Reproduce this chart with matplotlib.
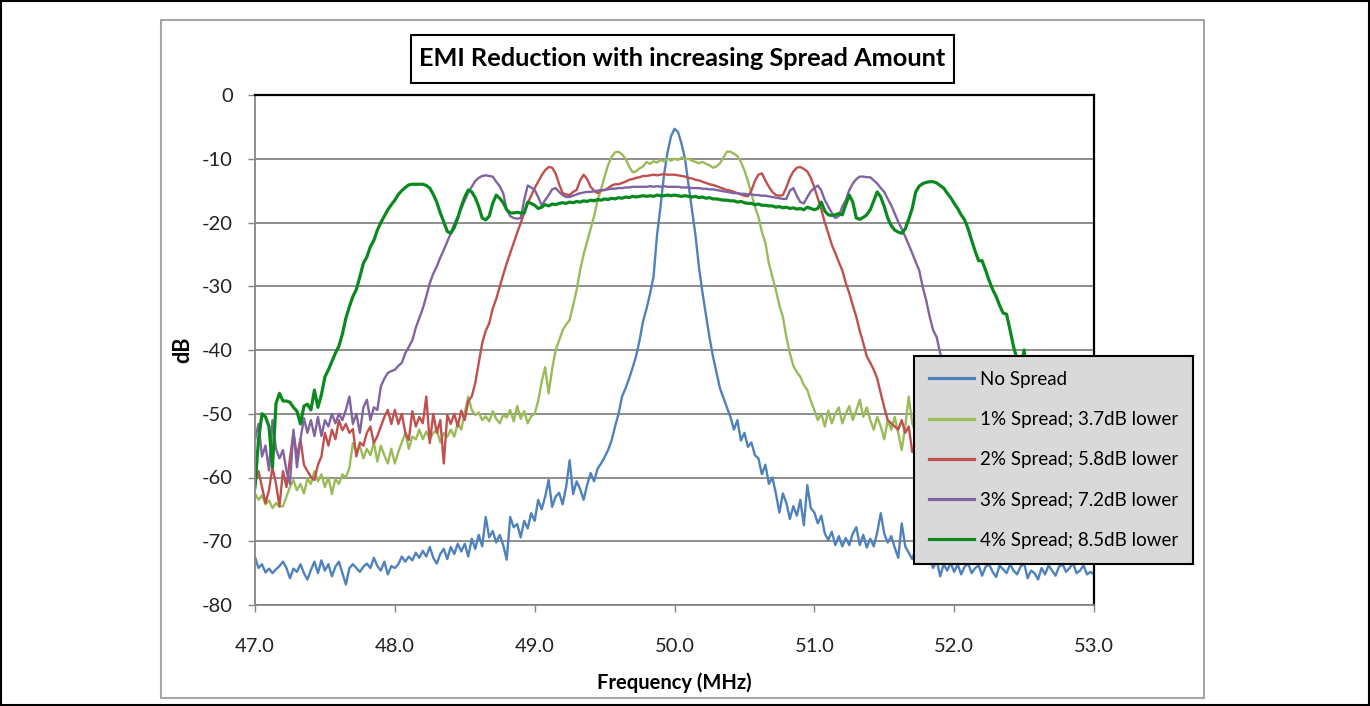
import numpy as np
import matplotlib
matplotlib.use("Agg")
import matplotlib.pyplot as plt
from matplotlib.patches import Rectangle

plt.rcParams['font.family'] = ['Lato', 'DejaVu Sans']
plt.rcParams['axes.unicode_minus'] = False

# spectra sampled every 0.025 MHz from 47.0 to 53.0 (8 samples per row = 0.2 MHz)
no_spread = [
    -72.5, -74.2, -73.6, -74.9, -74.3, -75.0, -74.4, -73.9,   # 47.0
    -73.2, -74.2, -75.8, -74.3, -74.8, -73.6, -75.0, -76.0,   # 47.2
    -74.5, -73.2, -75.0, -73.0, -74.6, -73.6, -75.5, -74.0,   # 47.4
    -73.2, -75.0, -76.8, -74.2, -73.6, -74.2, -74.8, -74.0,   # 47.6
    -73.5, -74.2, -72.6, -73.9, -74.6, -73.2, -75.2, -73.9,   # 47.8
    -74.2, -73.6, -72.4, -73.2, -72.4, -73.0, -71.8, -72.6,   # 48.0
    -71.5, -72.4, -70.9, -72.6, -73.5, -72.0, -71.2, -72.8,   # 48.2
    -70.9, -72.0, -70.4, -71.6, -70.4, -72.4, -69.6, -71.2,   # 48.4
    -69.0, -70.8, -66.2, -69.4, -68.4, -70.2, -69.0, -70.6,   # 48.6
    -72.9, -66.2, -67.8, -67.3, -69.4, -66.8, -68.0, -65.6,   # 48.8
    -66.8, -63.5, -65.0, -63.0, -60.4, -64.6, -63.0, -62.4,   # 49.0
    -64.2, -61.5, -57.3, -62.6, -60.6, -61.8, -63.5, -61.2,   # 49.2
    -59.3, -60.6, -58.6, -57.8, -56.8, -55.7, -54.2, -52.0,   # 49.4
    -50.0, -47.3, -46.0, -44.5, -42.8, -41.0, -38.5, -35.5,   # 49.6
    -33.5, -31.2, -28.5, -22.0, -17.5, -12.5, -9.0, -6.5,     # 49.8
    -5.3, -5.8, -7.6, -10.0, -14.0, -18.0, -22.0, -27.0,      # 50.0
    -31.0, -34.5, -38.0, -41.0, -43.5, -46.0, -47.5, -49.0,   # 50.2
    -50.5, -52.5, -51.0, -54.2, -53.0, -55.2, -54.5, -56.5,   # 50.4
    -57.0, -59.5, -58.0, -61.0, -60.0, -62.5, -65.5, -62.5,   # 50.6
    -64.0, -66.5, -64.5, -66.0, -63.5, -67.5, -61.2, -64.8,   # 50.8
    -65.5, -67.2, -66.0, -68.8, -69.8, -68.5, -70.6, -69.2,   # 51.0
    -70.8, -69.5, -70.6, -68.8, -67.8, -70.6, -69.0, -71.0,   # 51.2
    -69.6, -70.8, -68.6, -65.6, -68.8, -70.2, -69.2, -71.0,   # 51.4
    -72.6, -67.2, -70.8, -71.8, -72.8, -71.2, -73.0, -72.0,   # 51.6
    -73.5, -72.6, -74.2, -73.0, -75.5, -73.6, -74.6, -73.4,   # 51.8
    -74.8, -73.6, -75.2, -74.0, -73.5, -75.0, -74.2, -73.8,   # 52.0
    -75.4, -74.0, -73.6, -74.8, -75.6, -73.8, -74.4, -75.0,   # 52.2
    -73.6, -74.6, -75.2, -74.0, -73.4, -75.8, -74.6, -75.0,   # 52.4
    -76.0, -74.2, -75.2, -73.8, -74.6, -75.4, -74.0, -73.6,   # 52.6
    -74.8, -74.2, -73.4, -75.0, -74.6, -73.8, -75.2, -74.8,   # 52.8
    -75.2,
]

spread_1 = [
    -62.5, -63.5, -62.8, -64.2, -63.6, -64.8, -64.0, -64.6,   # 47.0
    -64.5, -63.0, -61.5, -60.4, -62.0, -61.0, -62.5, -60.2,   # 47.2
    -61.0, -59.0, -60.6, -59.5, -61.5, -60.0, -62.6, -60.2,   # 47.4
    -61.0, -59.5, -60.0, -58.5, -54.6, -56.0, -55.0, -57.0,   # 47.6
    -55.5, -56.5, -54.5, -57.5, -55.0, -56.5, -57.8, -55.5,   # 47.8
    -57.8, -56.0, -54.5, -53.0, -55.5, -53.6, -54.0, -52.5,   # 48.0
    -54.0, -52.8, -54.0, -53.0, -52.5, -54.5, -53.0, -53.6,   # 48.2
    -52.5, -53.6, -51.5, -52.5, -49.8, -47.3, -49.4, -50.2,   # 48.4
    -49.8, -51.0, -50.4, -51.2, -49.6, -50.8, -51.5, -50.2,   # 48.6
    -50.6, -49.4, -51.2, -48.8, -50.8, -49.6, -51.5, -50.4,   # 48.8
    -50.0, -48.0, -45.0, -42.7, -46.8, -43.0, -40.0, -38.5,   # 49.0
    -36.9, -36.0, -35.3, -33.0, -30.6, -27.5, -25.0, -23.0,   # 49.2
    -21.0, -19.0, -16.5, -14.8, -12.8, -11.0, -9.7, -9.0,     # 49.4
    -8.9, -9.3, -10.0, -11.2, -12.1, -12.0, -11.5, -11.2,     # 49.6
    -10.5, -10.8, -10.4, -10.6, -10.2, -10.4, -10.0, -10.3,   # 49.8
    -10.0, -10.2, -9.8, -10.1, -10.0, -10.3, -10.5, -10.7,    # 50.0
    -10.5, -10.8, -11.0, -11.4, -11.2, -10.7, -9.8, -8.9,     # 50.2
    -8.9, -9.2, -9.6, -10.5, -11.8, -13.5, -15.5, -17.5,      # 50.4
    -19.1, -21.5, -23.2, -26.4, -28.5, -30.6, -33.0, -34.8,   # 50.6
    -38.0, -40.5, -42.5, -43.5, -44.2, -45.5, -46.3, -48.0,   # 50.8
    -49.4, -51.0, -50.0, -52.0, -49.5, -51.5, -50.0, -49.0,   # 51.0
    -51.5, -50.0, -48.8, -51.0, -49.5, -47.8, -50.5, -49.0,   # 51.2
    -51.0, -52.5, -50.5, -52.0, -54.0, -51.0, -52.5, -50.5,   # 51.4
    -53.0, -55.7, -52.0, -47.3, -51.5, -53.0, -52.0, -54.0,   # 51.6
    -52.5, -53.5, -51.5, -54.0, -52.5, -55.0, -53.0, -54.5,   # 51.8
    -53.5, -55.0, -54.0, -56.0, -55.0, -57.0, -56.0, -57.5,   # 52.0
    -56.5, -58.0, -57.0, -59.0, -58.0, -60.0, -59.0, -60.5,   # 52.2
    -59.5, -61.0, -60.0, -62.0, -61.0, -62.5, -61.5, -63.0,   # 52.4
    -62.0, -63.5, -62.5, -64.0, -63.0, -64.5, -63.5, -64.0,   # 52.6
    -63.5, -64.5, -63.0, -64.0, -63.5, -64.5, -63.8, -64.2,   # 52.8
    -64.0,
]

spread_2 = [
    -60.9, -59.0, -61.5, -64.0, -62.0, -58.4, -61.0, -64.5,   # 47.0
    -59.0, -61.5, -57.0, -53.0, -56.7, -54.0, -58.0, -59.0,   # 47.2
    -59.9, -60.4, -58.0, -56.7, -53.0, -55.0, -52.5, -54.0,   # 47.4
    -51.0, -52.6, -51.6, -53.0, -52.4, -56.7, -54.5, -55.0,   # 47.6
    -53.0, -52.0, -54.6, -53.5, -52.0, -50.5, -49.4, -51.6,   # 47.8
    -49.4, -51.6, -50.0, -53.0, -54.1, -49.6, -52.0, -50.5,   # 48.0
    -51.5, -47.3, -54.6, -50.0, -53.0, -51.0, -57.8, -50.2,   # 48.2
    -51.6, -50.0, -52.0, -49.5, -51.0, -48.0, -47.3, -45.2,   # 48.4
    -42.0, -38.9, -37.0, -35.8, -33.5, -32.0, -30.1, -28.2,   # 48.6
    -26.4, -24.8, -23.2, -21.6, -20.1, -18.5, -17.0, -15.8,   # 48.8
    -14.6, -13.6, -12.6, -11.8, -11.3, -11.4, -12.3, -14.0,   # 49.0
    -15.4, -15.6, -15.7, -15.2, -14.9, -13.4, -12.5, -13.2,   # 49.2
    -14.4, -15.0, -15.4, -15.0, -14.9, -14.6, -14.2, -14.0,   # 49.4
    -14.0, -13.8, -13.6, -13.3, -13.2, -13.0, -12.9, -12.7,   # 49.6
    -12.7, -12.6, -12.5, -12.6, -12.5, -12.4, -12.5, -12.5,   # 49.8
    -12.5, -12.6, -12.7, -12.8, -13.0, -13.1, -13.3, -13.4,   # 50.0
    -13.6, -13.8, -14.0, -14.1, -14.3, -14.5, -14.7, -14.9,   # 50.2
    -15.0, -15.2, -15.4, -15.6, -15.8, -15.9, -15.0, -13.5,   # 50.4
    -12.5, -12.3, -13.4, -14.4, -15.2, -15.7, -15.8, -15.7,   # 50.6
    -14.5, -13.0, -12.0, -11.4, -11.3, -11.6, -12.0, -13.0,   # 50.8
    -14.5, -16.2, -18.0, -20.0, -21.7, -23.5, -24.8, -26.2,   # 51.0
    -27.5, -29.5, -31.1, -33.0, -34.8, -37.0, -38.9, -41.0,   # 51.2
    -42.0, -43.1, -44.5, -46.8, -49.0, -51.0, -51.5, -52.0,   # 51.4
    -52.5, -51.0, -53.0, -52.0, -56.0, -54.5, -55.5, -57.0,   # 51.6
    -55.0, -57.5, -56.0, -58.5, -57.0, -59.0, -58.0, -60.0,   # 51.8
    -59.0, -60.5, -59.5, -61.5, -60.5, -62.0, -61.0, -62.5,   # 52.0
    -61.5, -63.0, -62.0, -63.5, -62.5, -64.0, -63.0, -64.0,   # 52.2
    -63.0, -64.5, -63.5, -64.0, -63.0, -64.5, -63.5, -64.0,   # 52.4
    -63.0, -64.5, -63.5, -64.0, -63.0, -64.5, -63.5, -64.0,   # 52.6
    -63.0, -64.5, -63.5, -64.0, -63.0, -64.5, -63.5, -64.0,   # 52.8
    -64.0,
]

spread_3 = [
    -54.1, -51.6, -56.7, -55.0, -58.9, -51.0, -55.5, -57.0,   # 47.0
    -55.7, -58.9, -61.0, -52.5, -58.4, -54.0, -50.7, -53.0,   # 47.2
    -51.0, -53.5, -50.5, -53.5, -51.0, -52.0, -50.0, -51.5,   # 47.4
    -50.0, -51.0, -49.4, -47.3, -51.6, -50.0, -53.0, -49.0,   # 47.6
    -47.8, -51.0, -49.0, -49.4, -45.7, -44.5, -43.6, -43.3,   # 47.8
    -43.1, -42.5, -42.0, -40.5, -39.5, -38.5, -36.5, -35.0,   # 48.0
    -33.5, -31.6, -29.5, -28.0, -26.9, -25.5, -24.3, -23.0,   # 48.2
    -21.7, -20.2, -19.1, -17.8, -16.5, -15.3, -14.4, -13.5,   # 48.4
    -13.0, -12.7, -12.6, -12.7, -12.8, -13.6, -14.3, -15.4,   # 48.6
    -18.0, -19.0, -19.3, -19.4, -19.3, -16.5, -14.2, -14.5,   # 48.8
    -14.9, -16.0, -17.3, -16.5, -15.7, -14.8, -14.6, -15.2,   # 49.0
    -15.7, -16.0, -16.0, -15.8, -15.6, -15.4, -15.3, -15.2,   # 49.2
    -15.2, -15.1, -15.0, -14.9, -14.9, -14.8, -14.7, -14.7,   # 49.4
    -14.6, -14.6, -14.5, -14.5, -14.4, -14.4, -14.4, -14.4,   # 49.6
    -14.4, -14.3, -14.4, -14.3, -14.4, -14.3, -14.4, -14.4,   # 49.8
    -14.4, -14.4, -14.5, -14.5, -14.5, -14.6, -14.6, -14.6,   # 50.0
    -14.7, -14.7, -14.8, -14.8, -14.9, -15.0, -15.1, -15.2,   # 50.2
    -15.3, -15.4, -15.4, -15.5, -15.5, -15.6, -15.6, -15.7,   # 50.4
    -15.7, -15.8, -15.8, -15.9, -16.0, -16.1, -16.2, -16.3,   # 50.6
    -16.3, -15.0, -14.6, -15.8, -16.8, -17.0, -16.0, -15.1,   # 50.8
    -14.6, -14.2, -15.0, -16.5, -17.5, -18.5, -19.3, -19.0,   # 51.0
    -17.5, -16.5, -14.9, -13.9, -13.2, -12.8, -12.8, -12.9,   # 51.2
    -12.9, -13.4, -13.9, -14.6, -15.2, -16.3, -17.3, -18.6,   # 51.4
    -19.9, -21.0, -22.2, -23.5, -24.8, -26.2, -27.5, -30.1,   # 51.6
    -32.2, -34.8, -36.9, -38.0, -40.5, -42.5, -44.5, -46.5,   # 51.8
    -48.0, -49.5, -51.0, -52.0, -53.0, -54.0, -55.0, -55.5,   # 52.0
    -56.0, -57.0, -56.5, -57.5, -57.0, -58.0, -57.5, -58.5,   # 52.2
    -58.0, -59.0, -58.5, -59.5, -59.0, -60.0, -59.5, -60.0,   # 52.4
    -59.5, -60.5, -60.0, -60.5, -60.0, -61.0, -60.5, -61.0,   # 52.6
    -60.5, -61.0, -60.5, -61.5, -61.0, -61.5, -61.0, -61.5,   # 52.8
    -61.5,
]

spread_4 = [
    -61.5, -54.1, -50.0, -50.5, -52.0, -58.4, -48.4, -46.8,   # 47.0
    -48.0, -48.0, -48.2, -49.0, -49.6, -51.6, -48.8, -48.5,   # 47.2
    -49.4, -46.3, -49.0, -47.0, -44.2, -43.1, -41.8, -40.5,   # 47.4
    -39.4, -37.5, -35.0, -33.2, -31.6, -30.5, -28.5, -26.4,   # 47.6
    -25.4, -23.8, -22.8, -21.2, -20.0, -19.0, -18.0, -17.2,   # 47.8
    -16.5, -15.6, -15.0, -14.5, -14.1, -14.0, -14.0, -14.0,   # 48.0
    -14.0, -14.2, -14.6, -15.6, -16.8, -18.5, -19.9, -21.4,   # 48.2
    -21.7, -20.8, -19.3, -17.5, -16.0, -14.9, -15.2, -16.1,   # 48.4
    -17.5, -19.3, -19.6, -19.0, -17.0, -15.7, -16.2, -16.9,   # 48.6
    -18.0, -18.5, -18.5, -18.4, -18.5, -18.5, -16.8, -17.0,   # 48.8
    -17.3, -17.8, -17.6, -17.2, -17.4, -17.1, -17.2, -17.0,   # 49.0
    -16.9, -17.0, -16.8, -16.9, -16.7, -16.8, -16.6, -16.7,   # 49.2
    -16.5, -16.6, -16.4, -16.5, -16.3, -16.4, -16.2, -16.3,   # 49.4
    -16.1, -16.2, -16.0, -16.1, -15.9, -16.0, -15.9, -15.8,   # 49.6
    -15.9, -15.8, -15.9, -15.7, -15.8, -15.8, -15.7, -15.8,   # 49.8
    -15.7, -15.8, -15.9, -15.8, -15.9, -16.0, -15.9, -16.1,   # 50.0
    -16.0, -16.2, -16.1, -16.3, -16.3, -16.4, -16.5, -16.5,   # 50.2
    -16.6, -16.6, -16.8, -16.7, -16.9, -17.0, -17.0, -17.2,   # 50.4
    -17.1, -17.3, -17.3, -17.4, -17.4, -17.6, -17.5, -17.7,   # 50.6
    -17.6, -17.8, -17.7, -17.9, -17.8, -18.0, -17.6, -17.8,   # 50.8
    -18.0, -17.8, -16.8, -18.2, -18.8, -18.9, -18.8, -18.6,   # 51.0
    -18.8, -17.2, -15.7, -16.8, -19.3, -19.5, -19.2, -18.8,   # 51.2
    -18.0, -16.6, -15.2, -16.0, -17.5, -19.3, -20.5, -21.2,   # 51.4
    -21.5, -21.7, -21.0, -19.5, -17.8, -15.2, -14.3, -13.9,   # 51.6
    -13.7, -13.6, -13.6, -13.8, -14.2, -14.6, -15.4, -16.1,   # 51.8
    -17.0, -17.8, -18.8, -19.6, -21.0, -22.8, -24.5, -26.0,   # 52.0
    -26.0, -27.5, -29.1, -30.5, -31.6, -33.0, -34.2, -34.4,   # 52.2
    -36.9, -39.5, -41.5, -43.0, -40.0, -44.5, -47.0, -49.0,   # 52.4
    -50.0, -51.5, -52.0, -53.0, -53.5, -54.5, -55.0, -56.0,   # 52.6
    -56.5, -57.0, -57.5, -58.0, -58.5, -59.0, -59.5, -60.0,   # 52.8
    -60.0,
]

labels = ["No Spread", "1% Spread; 3.7dB lower", "2% Spread; 5.8dB lower",
          "3% Spread; 7.2dB lower", "4% Spread; 8.5dB lower"]
colors = ["#4f81bd", "#9bbb59", "#c0504d", "#8064a2", "#0a8a1e"]
series = [no_spread, spread_1, spread_2, spread_3, spread_4]
widths = [1.7, 1.7, 1.7, 1.7, 2.3]

W, H = 1370, 706
fig = plt.figure(figsize=(W / 100, H / 100), dpi=100)

# outer border and chart area border
fig.patches.append(Rectangle((0.0005, 0.001), 0.999, 0.998, transform=fig.transFigure,
                             fill=False, edgecolor="black", lw=1.5))
fig.patches.append(Rectangle((161 / W, 1 - 698 / H), (1204 - 161) / W, (698 - 20) / H,
                             transform=fig.transFigure, fill=False, edgecolor="#a6a6a6", lw=1.5))

ax = fig.add_axes([255 / W, 1 - 605 / H, (1094 - 255) / W, (605 - 95) / H])

for db, c, lab, lw in zip(series, colors, labels, widths):
    f = np.linspace(47.0, 53.0, len(db))
    ax.plot(f, db, color=c, lw=lw, label=lab)

ax.set_xlim(47, 53)
ax.set_ylim(-80, 0)
xt = [47, 48, 49, 50, 51, 52, 53]
ax.set_xticks(xt)
ax.set_xticklabels(["%.1f" % v for v in xt])
yt = list(range(-80, 1, 10))
ax.set_yticks(yt)
ax.set_yticklabels([str(v) for v in yt])
ax.tick_params(axis="both", direction="out", length=5, width=1, color="#868686",
               labelsize=14.5, labelcolor="#222222")
ax.tick_params(axis="y", pad=11)
ax.tick_params(axis="x", pad=19)

ax.yaxis.grid(True, color="#868686", lw=1.3)
ax.set_axisbelow(True)
for s in ["top", "right"]:
    ax.spines[s].set_color("black")
    ax.spines[s].set_linewidth(1.6)
for s in ["left", "bottom"]:
    ax.spines[s].set_color("#868686")
    ax.spines[s].set_linewidth(1.3)

# title in a framed box
fig.patches.append(Rectangle((411 / W, 1 - 83 / H), (954 - 411) / W, (83 - 35) / H,
                             transform=fig.transFigure, facecolor="white",
                             edgecolor="black", lw=1.5))
fig.text(682 / W, 1 - 59 / H, "EMI Reduction with increasing Spread Amount",
         ha="center", va="center", fontsize=18.3, fontweight="bold")

fig.text(183 / W, 1 - 350 / H, "dB", rotation=90, ha="center", va="center",
         fontsize=15.5, fontweight="bold")
fig.text(674 / W, 1 - 683 / H, "Frequency (MHz)", ha="center", va="center",
         fontsize=14.5, fontweight="bold")

leg = ax.legend(loc="upper left", bbox_to_anchor=(914 / W, 1 - 356 / H),
                bbox_transform=fig.transFigure, borderaxespad=0, fancybox=False,
                frameon=True, facecolor="#d9d9d9", edgecolor="black", framealpha=1,
                fontsize=13.5, handlelength=2.4, handletextpad=0.3,
                labelspacing=1.24, borderpad=0.8)
leg.get_frame().set_linewidth(1.5)
for line in leg.get_lines():
    line.set_linewidth(2.3)

fig.savefig("out.png", dpi=100)
